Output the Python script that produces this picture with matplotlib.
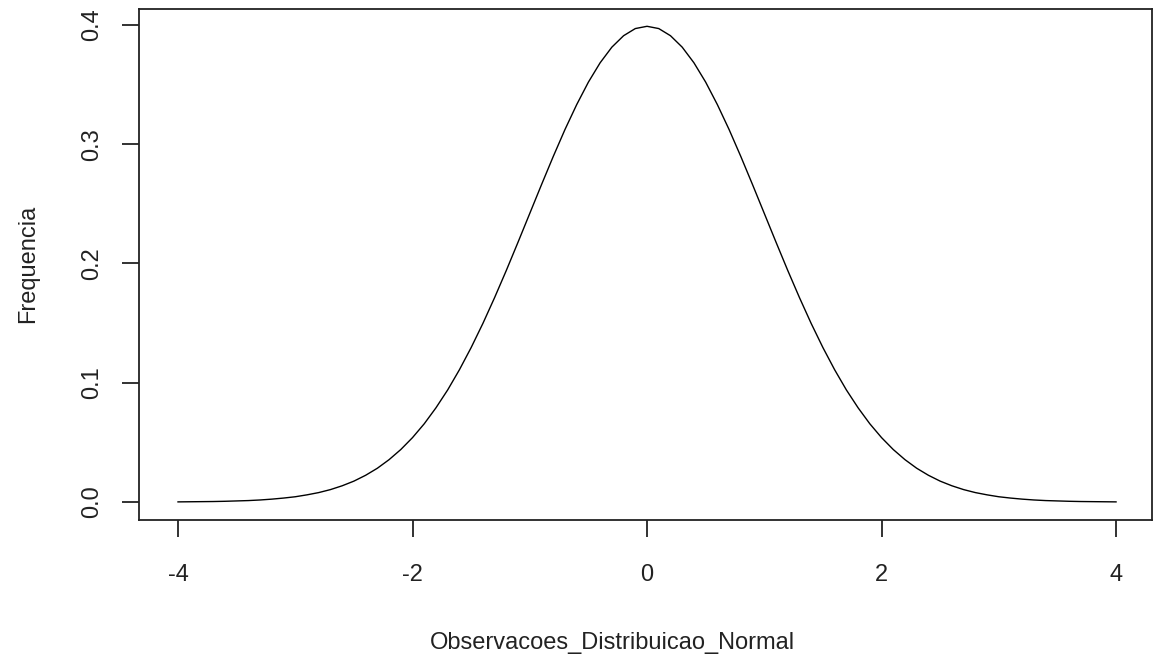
import matplotlib
matplotlib.use("Agg")
import matplotlib.pyplot as plt

# density curve of the simulated observations
obs_x = [-4.0, -3.9, -3.8, -3.7, -3.6, -3.5, -3.4, -3.3, -3.2, -3.1,
         -3.0, -2.9, -2.8, -2.7, -2.6, -2.5, -2.4, -2.3, -2.2, -2.1,
         -2.0, -1.9, -1.8, -1.7, -1.6, -1.5, -1.4, -1.3, -1.2, -1.1,
         -1.0, -0.9, -0.8, -0.7, -0.6, -0.5, -0.4, -0.3, -0.2, -0.1,
         0.0,
         0.1, 0.2, 0.3, 0.4, 0.5, 0.6, 0.7, 0.8, 0.9, 1.0,
         1.1, 1.2, 1.3, 1.4, 1.5, 1.6, 1.7, 1.8, 1.9, 2.0,
         2.1, 2.2, 2.3, 2.4, 2.5, 2.6, 2.7, 2.8, 2.9, 3.0,
         3.1, 3.2, 3.3, 3.4, 3.5, 3.6, 3.7, 3.8, 3.9, 4.0]
freq = [0.0001, 0.0002, 0.0003, 0.0004, 0.0006, 0.0009, 0.0012, 0.0017, 0.0024, 0.0033,
        0.0044, 0.0060, 0.0079, 0.0104, 0.0136, 0.0175, 0.0224, 0.0283, 0.0355, 0.0440,
        0.0540, 0.0656, 0.0790, 0.0940, 0.1109, 0.1295, 0.1497, 0.1714, 0.1942, 0.2179,
        0.2420, 0.2661, 0.2897, 0.3123, 0.3332, 0.3521, 0.3683, 0.3814, 0.3910, 0.3970,
        0.3989,
        0.3970, 0.3910, 0.3814, 0.3683, 0.3521, 0.3332, 0.3123, 0.2897, 0.2661, 0.2420,
        0.2179, 0.1942, 0.1714, 0.1497, 0.1295, 0.1109, 0.0940, 0.0790, 0.0656, 0.0540,
        0.0440, 0.0355, 0.0283, 0.0224, 0.0175, 0.0136, 0.0104, 0.0079, 0.0060, 0.0044,
        0.0033, 0.0024, 0.0017, 0.0012, 0.0009, 0.0006, 0.0004, 0.0003, 0.0002, 0.0001]
x_ticks = [-4, -2, 0, 2, 4]
y_ticks = [0.0, 0.1, 0.2, 0.3, 0.4]

plt.rcParams['font.family'] = ['Liberation Sans', 'DejaVu Sans']

fig = plt.figure(figsize=(11.59, 6.56), dpi=100)
ax = fig.add_axes([0.1199, 0.2073, 0.8741, 0.7797])

ax.plot(obs_x, freq, color='black', lw=1.0)

ax.set_xlim(-4.333, 4.307)
ax.set_ylim(-0.0151, 0.4138)
ax.set_xticks(x_ticks)
ax.set_xticklabels(['-4', '-2', '0', '2', '4'])
ax.set_yticks(y_ticks)
ax.set_yticklabels(['0.0', '0.1', '0.2', '0.3', '0.4'], rotation=90, va='center')

for s in ax.spines.values():
    s.set_linewidth(1.3)
    s.set_color('#222222')
ax.tick_params(length=12, width=1.3, color='#222222', labelsize=17,
               labelcolor='#222222')
ax.tick_params(axis='x', pad=20)
ax.tick_params(axis='y', pad=14)

ax.set_xlabel('Observacoes_Distribuicao_Normal', fontsize=17, color='#222222', va='top')
ax.xaxis.set_label_coords(0.467, -0.219)
ax.set_ylabel('Frequencia', fontsize=17, color='#222222', va='bottom')
ax.yaxis.set_label_coords(-0.099, 0.5)

fig.savefig('out.png', dpi=100)
